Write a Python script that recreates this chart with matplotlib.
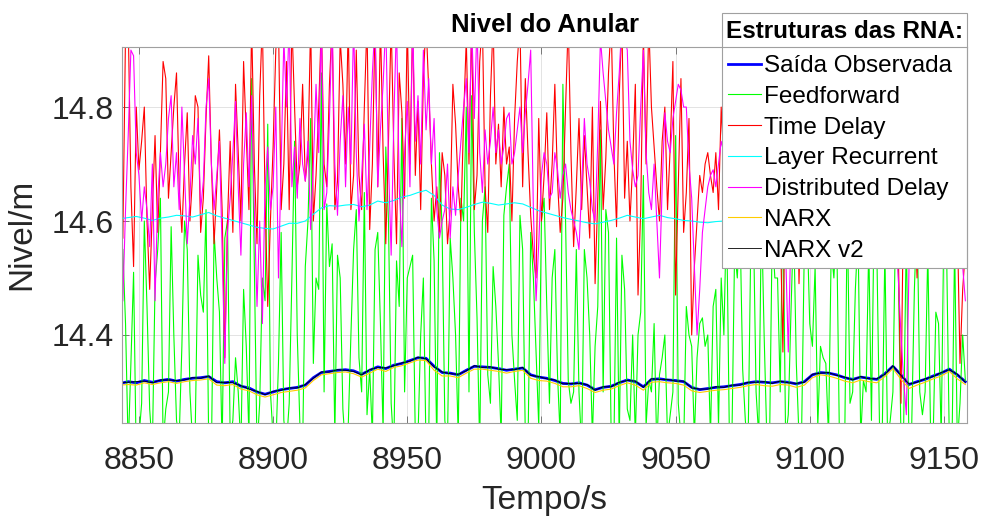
import numpy as np
import matplotlib
matplotlib.use("Agg")
import matplotlib.pyplot as plt

plt.rcParams['font.family'] = ['Liberation Sans', 'DejaVu Sans']

# smooth series, one value every 3 s
t_smooth = np.arange(8843, 9159, 3)
observed = [
    14.315, 14.318, 14.316, 14.320, 14.317, 14.320, 14.322, 14.319, 14.322, 14.324,
    14.325, 14.327, 14.318, 14.316, 14.318, 14.310, 14.307, 14.300, 14.296, 14.300,
    14.304, 14.306, 14.308, 14.312, 14.325, 14.334, 14.336, 14.338, 14.339, 14.337,
    14.331, 14.338, 14.344, 14.341, 14.347, 14.350, 14.355, 14.360, 14.359, 14.345,
    14.334, 14.333, 14.330, 14.338, 14.345, 14.344, 14.343, 14.341, 14.338, 14.340,
    14.342, 14.330, 14.326, 14.324, 14.320, 14.315, 14.314, 14.316, 14.312, 14.304,
    14.308, 14.310, 14.316, 14.321, 14.318, 14.309, 14.322, 14.323, 14.321, 14.320,
    14.318, 14.308, 14.304, 14.306, 14.308, 14.309, 14.311, 14.313, 14.316, 14.318,
    14.317, 14.316, 14.318, 14.317, 14.314, 14.318, 14.330, 14.334, 14.333, 14.330,
    14.325, 14.322, 14.326, 14.324, 14.322, 14.332, 14.345, 14.330, 14.313, 14.318,
    14.322, 14.328, 14.333, 14.340, 14.330, 14.318]
narx = [
    14.312, 14.313, 14.312, 14.316, 14.313, 14.316, 14.318, 14.315, 14.318, 14.320,
    14.321, 14.323, 14.312, 14.311, 14.313, 14.305, 14.302, 14.295, 14.291, 14.295,
    14.299, 14.301, 14.303, 14.307, 14.320, 14.330, 14.332, 14.334, 14.335, 14.332,
    14.326, 14.333, 14.340, 14.336, 14.343, 14.346, 14.351, 14.356, 14.355, 14.338,
    14.328, 14.328, 14.325, 14.333, 14.340, 14.340, 14.338, 14.336, 14.333, 14.336,
    14.338, 14.324, 14.320, 14.319, 14.315, 14.309, 14.309, 14.311, 14.306, 14.299,
    14.303, 14.305, 14.311, 14.316, 14.312, 14.303, 14.317, 14.318, 14.316, 14.315,
    14.312, 14.302, 14.299, 14.301, 14.303, 14.304, 14.306, 14.308, 14.311, 14.313,
    14.311, 14.310, 14.313, 14.312, 14.308, 14.312, 14.325, 14.330, 14.328, 14.324,
    14.319, 14.316, 14.321, 14.318, 14.316, 14.327, 14.341, 14.322, 14.306, 14.312,
    14.317, 14.323, 14.328, 14.336, 14.323, 14.313]
narx_v2 = [
    14.316, 14.317, 14.318, 14.319, 14.316, 14.321, 14.321, 14.320, 14.321, 14.325,
    14.324, 14.328, 14.316, 14.317, 14.316, 14.311, 14.305, 14.301, 14.295, 14.301,
    14.303, 14.307, 14.307, 14.313, 14.324, 14.335, 14.335, 14.339, 14.338, 14.336,
    14.330, 14.339, 14.343, 14.342, 14.346, 14.351, 14.354, 14.361, 14.358, 14.344,
    14.335, 14.332, 14.331, 14.337, 14.346, 14.343, 14.344, 14.340, 14.339, 14.339,
    14.343, 14.329, 14.327, 14.323, 14.321, 14.314, 14.315, 14.315, 14.313, 14.303,
    14.309, 14.309, 14.317, 14.320, 14.319, 14.308, 14.323, 14.322, 14.322, 14.319,
    14.319, 14.307, 14.305, 14.305, 14.309, 14.308, 14.312, 14.312, 14.317, 14.317,
    14.318, 14.315, 14.319, 14.316, 14.315, 14.317, 14.331, 14.333, 14.334, 14.329,
    14.326, 14.321, 14.327, 14.323, 14.323, 14.331, 14.346, 14.329, 14.314, 14.317,
    14.323, 14.327, 14.334, 14.339, 14.331, 14.317]
layer_rec = [
    14.604, 14.606, 14.608, 14.605, 14.601, 14.605, 14.607, 14.610, 14.609, 14.607,
    14.611, 14.615, 14.609, 14.605, 14.601, 14.597, 14.593, 14.589, 14.587, 14.586,
    14.591, 14.596, 14.596, 14.600, 14.612, 14.623, 14.627, 14.626, 14.628, 14.629,
    14.625, 14.628, 14.635, 14.632, 14.636, 14.642, 14.645, 14.650, 14.654, 14.645,
    14.628, 14.621, 14.620, 14.624, 14.629, 14.633, 14.631, 14.628, 14.630, 14.632,
    14.630, 14.624, 14.618, 14.614, 14.610, 14.606, 14.603, 14.600, 14.597, 14.595,
    14.598, 14.601, 14.605, 14.610, 14.607, 14.604, 14.607, 14.610, 14.606, 14.604,
    14.601, 14.600, 14.598, 14.597, 14.599, 14.600, 14.602, 14.604, 14.601, 14.599,
    14.597, 14.600, 14.603, 14.601, 14.598, 14.596, 14.599, 14.602, 14.605, 14.603,
    14.600, 14.598, 14.601, 14.604, 14.602, 14.599, 14.597, 14.600, 14.603, 14.601,
    14.598, 14.600, 14.602, 14.600, 14.598, 14.597]

# noisy series, one value every second (20 s per row)
t_noisy = np.arange(8844, 9159, 1)
feedforward = [
    14.55, 14.42, 14.20, 14.35, 14.51, 14.18, 14.22, 14.28, 14.60, 14.45, 14.27, 14.20, 14.49, 14.55, 14.64, 14.21, 14.27, 14.30, 14.59, 14.40,
    14.25, 14.22, 14.38, 14.60, 14.55, 14.30, 14.21, 14.24, 14.54, 14.47, 14.44, 14.62, 14.21, 14.19, 14.58, 14.50, 14.44, 14.20, 14.57, 14.60,
    14.22, 14.25, 14.36, 14.30, 14.20, 14.48, 14.38, 14.22, 14.85, 14.52, 14.20, 14.28, 14.50, 14.46, 14.77, 14.30, 14.22, 14.20, 14.35, 14.58,
    14.25, 14.21, 14.28, 14.50, 14.74, 14.40, 14.24, 14.20, 14.52, 14.60, 14.78, 14.35, 14.50, 14.48, 14.86, 14.30, 14.63, 14.52, 14.56, 14.22,
    14.54, 14.50, 14.27, 14.20, 14.24, 14.40, 14.55, 14.62, 14.36, 14.30, 14.65, 14.26, 14.34, 14.22, 14.55, 14.58, 14.42, 14.23, 14.73, 14.60,
    14.28, 14.20, 14.53, 14.45, 14.78, 14.30, 14.50, 14.52, 14.54, 14.22, 14.22, 14.40, 14.50, 14.20, 14.22, 14.64, 14.53, 14.20, 14.72, 14.58,
    14.25, 14.21, 14.57, 14.50, 14.40, 14.22, 14.64, 14.60, 14.80, 14.30, 14.82, 14.58, 14.43, 14.20, 14.60, 14.66, 14.33, 14.28, 14.52, 14.45,
    14.35, 14.22, 14.61, 14.66, 14.70, 14.40, 14.32, 14.25, 14.61, 14.55, 14.22, 14.20, 14.58, 14.50, 14.37, 14.24, 14.60, 14.64, 14.45, 14.28,
    14.50, 14.55, 14.33, 14.22, 14.84, 14.60, 14.32, 14.28, 14.30, 14.55, 14.30, 14.20, 14.55, 14.50, 14.40, 14.22, 14.38, 14.45, 14.76, 14.30,
    14.62, 14.58, 14.22, 14.20, 14.57, 14.21, 14.54, 14.48, 14.27, 14.25, 14.40, 14.22, 14.40, 14.44, 14.68, 14.24, 14.32, 14.30, 14.42, 14.20,
    14.33, 14.36, 14.40, 14.22, 14.26, 14.30, 14.75, 14.28, 14.22, 14.20, 14.45, 14.40, 14.38, 14.22, 14.36, 14.42, 14.43, 14.38, 14.40, 14.22,
    14.45, 14.48, 14.24, 14.50, 14.40, 14.62, 14.24, 14.22, 14.55, 14.50, 14.60, 14.34, 14.25, 14.20, 14.55, 14.60, 14.30, 14.22, 14.62, 14.40,
    14.22, 14.20, 14.58, 14.50, 14.50, 14.30, 14.65, 14.22, 14.26, 14.44, 14.60, 14.35, 14.22, 14.24, 14.56, 14.60, 14.42, 14.38, 14.52, 14.24,
    14.38, 14.36, 14.35, 14.22, 14.55, 14.50, 14.60, 14.24, 14.22, 14.20, 14.62, 14.28, 14.30, 14.48, 14.58, 14.22, 14.32, 14.30, 14.56, 14.25,
    14.62, 14.55, 14.24, 14.22, 14.55, 14.22, 14.25, 14.30, 14.60, 14.52, 14.22, 14.24, 14.58, 14.20, 14.24, 14.48, 14.62, 14.30, 14.26, 14.30,
    14.55, 14.24, 14.22, 14.44, 14.42, 14.22, 14.60, 14.55, 14.22, 14.20, 14.56, 14.21, 14.28, 14.40, 14.32]
time_delay = [
    14.57, 14.93, 14.95, 14.66, 14.52, 14.80, 14.69, 14.74, 14.80, 14.60, 14.48, 14.62, 14.75, 14.58, 14.72, 14.88, 14.85, 14.64, 14.72, 14.80,
    14.86, 14.66, 14.58, 14.70, 14.79, 14.60, 14.68, 14.82, 14.80, 14.58, 14.64, 14.78, 14.89, 14.70, 14.56, 14.66, 14.76, 14.62, 14.36, 14.60,
    14.74, 14.58, 14.84, 14.72, 14.60, 14.88, 14.75, 14.62, 14.95, 14.70, 14.56, 14.82, 14.95, 14.64, 14.45, 14.60, 14.73, 14.90, 14.95, 14.62,
    14.70, 14.88, 14.62, 14.95, 14.80, 14.66, 14.70, 14.84, 14.67, 14.72, 14.95, 14.60, 14.68, 14.80, 14.95, 14.70, 14.66, 14.84, 14.95, 14.62,
    14.67, 14.92, 14.84, 14.70, 14.95, 14.62, 14.68, 14.90, 14.68, 14.62, 14.80, 14.95, 14.585, 14.70, 14.95, 14.66, 14.95, 14.72, 14.56, 14.74,
    14.95, 14.72, 14.56, 14.86, 14.79, 14.64, 14.95, 14.70, 14.95, 14.68, 14.81, 14.62, 14.85, 14.95, 14.83, 14.70, 14.60, 14.66, 14.58, 14.72,
    14.68, 14.56, 14.62, 14.84, 14.77, 14.66, 14.60, 14.78, 14.92, 14.70, 14.95, 14.62, 14.68, 14.88, 14.95, 14.66, 14.58, 14.82, 14.95, 14.70,
    14.77, 14.66, 14.80, 14.70, 14.73, 14.60, 14.78, 14.88, 14.95, 14.66, 14.85, 14.72, 14.61, 14.54, 14.50, 14.78, 14.60, 14.68, 14.79, 14.62,
    14.70, 14.84, 14.67, 14.58, 14.64, 14.80, 14.95, 14.72, 14.555, 14.66, 14.78, 14.62, 14.75, 14.66, 14.57, 14.80, 14.49, 14.64, 14.81, 14.62,
    14.71, 14.86, 14.95, 14.72, 14.59, 14.82, 14.95, 14.64, 14.74, 14.60, 14.70, 14.84, 14.47, 14.62, 14.93, 14.70, 14.95, 14.80, 14.73, 14.66,
    14.60, 14.74, 14.80, 14.62, 14.73, 14.88, 14.47, 14.66, 14.85, 14.58, 14.65, 14.78, 14.40, 14.52, 14.60, 14.68, 14.65, 14.70, 14.72, 14.68,
    14.65, 14.72, 14.62, 14.80, 14.70, 14.64, 14.85, 14.70, 14.62, 14.86, 14.78, 14.66, 14.60, 14.84, 14.90, 14.68, 14.66, 14.82, 14.75, 14.62,
    14.58, 14.74, 14.82, 14.66, 14.70, 14.60, 14.37, 14.72, 14.80, 14.66, 14.62, 14.78, 14.49, 14.70, 14.75, 14.62, 14.68, 14.84, 14.85, 14.70,
    14.60, 14.86, 14.78, 14.64, 14.64, 14.80, 14.90, 14.70, 14.58, 14.82, 14.72, 14.62, 14.80, 14.68, 14.60, 14.84, 14.76, 14.62, 14.66, 14.80,
    14.88, 14.70, 14.62, 14.82, 14.74, 14.64, 14.58, 14.76, 14.70, 14.55, 14.28, 14.66, 14.60, 14.74, 14.80, 14.62, 14.50, 14.68, 14.75, 14.82,
    14.66, 14.72, 14.84, 14.62, 14.60, 14.78, 14.72, 14.66, 14.64, 14.84, 14.80, 14.60, 14.35, 14.48, 14.55]
distributed = [
    14.46, 14.62, 14.75, 14.90, 14.89, 14.72, 14.68, 14.60, 14.66, 14.62, 14.555, 14.70, 14.46, 14.64, 14.72, 14.66, 14.70, 14.78, 14.82, 14.66,
    14.72, 14.62, 14.80, 14.68, 14.56, 14.64, 14.75, 14.70, 14.78, 14.62, 14.67, 14.80, 14.85, 14.70, 14.62, 14.68, 14.74, 14.55, 14.35, 14.58,
    14.64, 14.72, 14.81, 14.66, 14.54, 14.70, 14.79, 14.66, 14.82, 14.62, 14.45, 14.60, 14.42, 14.66, 14.73, 14.62, 14.66, 14.80, 14.50, 14.70,
    14.92, 14.80, 14.95, 14.66, 14.73, 14.64, 14.78, 14.70, 14.67, 14.74, 14.585, 14.70, 14.84, 14.72, 14.95, 14.62, 14.65, 14.78, 14.95, 14.70,
    14.61, 14.74, 14.82, 14.66, 14.80, 14.70, 14.95, 14.72, 14.60, 14.68, 14.77, 14.62, 14.73, 14.86, 14.95, 14.66, 14.76, 14.84, 14.95, 14.70,
    14.54, 14.78, 14.95, 14.66, 14.555, 14.72, 14.81, 14.66, 14.95, 14.74, 14.82, 14.70, 14.90, 14.76, 14.85, 14.70, 14.78, 14.62, 14.57, 14.60,
    14.62, 14.70, 14.57, 14.66, 14.61, 14.68, 14.74, 14.80, 14.85, 14.72, 14.95, 14.78, 14.95, 14.72, 14.65, 14.76, 14.70, 14.74, 14.80, 14.72,
    14.76, 14.70, 14.73, 14.78, 14.79, 14.70, 14.72, 14.76, 14.80, 14.72, 14.79, 14.84, 14.90, 14.62, 14.46, 14.56, 14.68, 14.72, 14.70, 14.64,
    14.65, 14.72, 14.69, 14.64, 14.68, 14.70, 14.65, 14.62, 14.60, 14.58, 14.55, 14.66, 14.78, 14.70, 14.67, 14.62, 14.60, 14.74, 14.92, 14.86,
    14.81, 14.76, 14.73, 14.70, 14.79, 14.86, 14.95, 14.92, 14.90, 14.74, 14.69, 14.66, 14.68, 14.80, 14.90, 14.72, 14.65, 14.62, 14.70, 14.60,
    14.50, 14.66, 14.79, 14.74, 14.72, 14.78, 14.81, 14.84, 14.83, 14.80, 14.80, 14.70, 14.64, 14.52, 14.40, 14.48, 14.58, 14.62, 14.66, 14.68,
    14.69, 14.66, 14.70, 14.74, 14.72, 14.66, 14.62, 14.72, 14.80, 14.70, 14.66, 14.76, 14.88, 14.74, 14.70, 14.64, 14.60, 14.72, 14.82, 14.74,
    14.68, 14.72, 14.75, 14.66, 14.63, 14.72, 14.80, 14.55, 14.37, 14.58, 14.70, 14.74, 14.76, 14.66, 14.58, 14.72, 14.84, 14.74, 14.66, 14.70,
    14.74, 14.66, 14.60, 14.72, 14.86, 14.74, 14.67, 14.72, 14.78, 14.68, 14.62, 14.66, 14.72, 14.78, 14.84, 14.72, 14.64, 14.70, 14.76, 14.66,
    14.60, 14.72, 14.82, 14.74, 14.70, 14.64, 14.66, 14.60, 14.58, 14.50, 14.40, 14.32, 14.26, 14.52, 14.70, 14.74, 14.78, 14.66, 14.60, 14.74,
    14.86, 14.72, 14.66, 14.70, 14.74, 14.66, 14.62, 14.72, 14.80, 14.74, 14.68, 14.62, 14.58, 14.52, 14.46]

x_ticks = [8850, 8900, 8950, 9000, 9050, 9100, 9150]
y_ticks = [14.4, 14.6, 14.8]

fig = plt.figure(figsize=(9.85, 5.21), dpi=100)
ax = fig.add_axes([0.1239, 0.1887, 0.8578, 0.7217])

ax.plot(t_smooth, observed, color='#0000ff', lw=2.0, label='Saída Observada')
ax.plot(t_noisy, feedforward, color='#00ff00', lw=0.8, label='Feedforward')
ax.plot(t_noisy, time_delay, color='#ff0000', lw=0.8, label='Time Delay')
ax.plot(t_smooth, layer_rec, color='#00ffff', lw=0.8, label='Layer Recurrent')
ax.plot(t_noisy, distributed, color='#ff00ff', lw=0.8, label='Distributed Delay')
ax.plot(t_smooth, narx, color='#ffcc00', lw=0.8, label='NARX')
ax.plot(t_smooth, narx_v2, color='#000000', lw=0.6, label='NARX v2')

ax.set_xlim(8843.7, 9158.6)
ax.set_ylim(14.246, 14.906)
ax.set_xticks(x_ticks)
ax.set_yticks(y_ticks)
ax.tick_params(direction='in', top=True, right=True, length=5, width=0.6,
               color='#666666', labelcolor='#262626', labelsize=23)
ax.tick_params(axis='x', pad=17)
ax.tick_params(axis='y', pad=6)
ax.grid(True, color='#e3e3e3', lw=0.7)
for sp in ax.spines.values():
    sp.set_color('#a0a0a0')
    sp.set_linewidth(0.8)

ax.set_xlabel('Tempo/s', fontsize=24, color='#262626')
ax.set_ylabel('Nivel/m', fontsize=24, color='#262626')
ax.xaxis.set_label_coords(0.5, -0.165)
ax.yaxis.set_label_coords(-0.100, 0.5)
ax.text(0.5, 1.058, 'Nivel do Anular', transform=ax.transAxes, ha='center',
        va='center', fontsize=18.5, fontweight='bold')

leg = ax.legend(loc='upper left',
                bbox_to_anchor=(721.7 / 985, 1 - 13.3 / 521, (966.7 - 721.7) / 985, 0),
                bbox_transform=fig.transFigure, mode='expand',
                title='Estruturas das RNA:', fontsize=17.5, title_fontsize=17.5,
                frameon=True, fancybox=False, framealpha=1, edgecolor='#a0a0a0',
                borderpad=0.26, labelspacing=0.36, handlelength=1.35, handletextpad=0.12,
                borderaxespad=0)
leg.get_title().set_fontweight('bold')
leg.get_frame().set_linewidth(0.8)
leg._legend_box.sep = 9  # gap between title and entries, in points
# legend just below the spines so the top spine separates its title
leg.set_zorder(2.2)

fig.savefig('out.png', dpi=100)
